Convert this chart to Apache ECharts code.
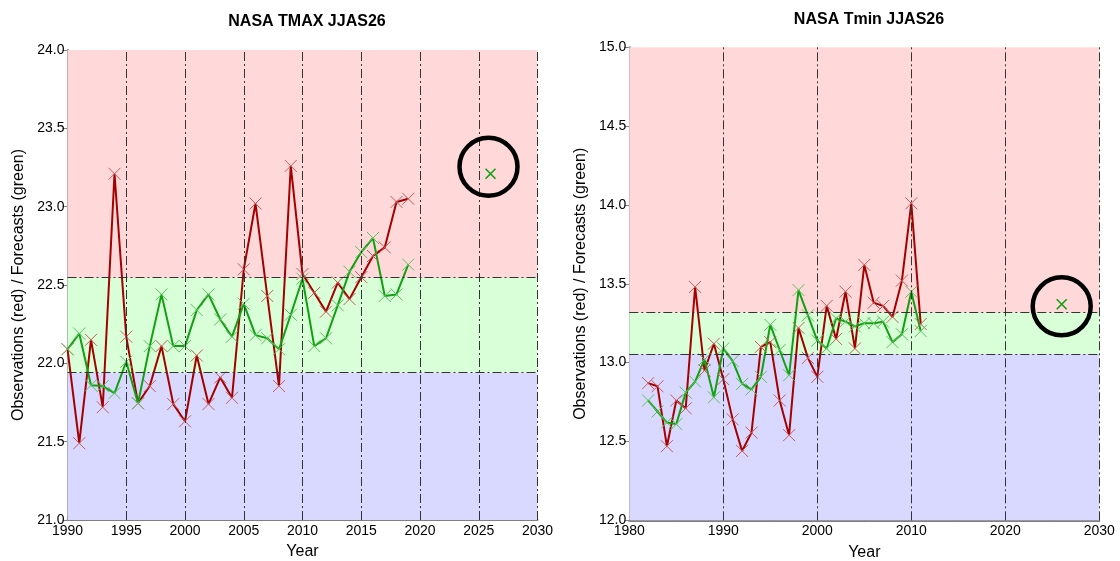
<!DOCTYPE html>
<html>
<head>
<meta charset="utf-8">
<script src="https://cdn.jsdelivr.net/npm/echarts@6/dist/echarts.min.js"></script>
<style>html,body{margin:0;padding:0;background:#fff}#c{width:1120px;height:561px}</style>
</head>
<body>
<div id="c"></div>
<script>
// ---- Left chart: NASA TMAX JJAS26 ----
const tmaxYears = [1990,1991,1992,1993,1994,1995,1996,1997,1998,1999,2000,2001,2002,2003,2004,2005,2006,2007,2008,2009,2010,2011,2012,2013,2014,2015,2016,2017,2018,2019];
const tmaxObs = [22.09,21.49,22.15,21.72,23.21,22.17,21.745,21.855,22.11,21.74,21.63,22.05,21.74,21.91,21.78,22.60,23.02,22.43,21.855,23.26,22.57,22.45,22.33,22.515,22.41,22.55,22.685,22.74,23.03,23.05];
const tmaxFc = [22.09,22.19,21.86,21.855,21.81,22.01,21.745,22.11,22.44,22.11,22.11,22.34,22.44,22.28,22.17,22.38,22.18,22.16,22.09,22.31,22.54,22.11,22.16,22.37,22.585,22.71,22.80,22.43,22.44,22.63];
const tmaxForecast = [2026, 23.21];
const tmaxTerciles = [21.94, 22.545];
const tmaxRange = [21, 24];
const tmaxGridYears = [1995,2000,2005,2010,2015,2020,2025,2030];

// ---- Right chart: NASA Tmin JJAS26 ----
const tminYears = [1982,1983,1984,1985,1986,1987,1988,1989,1990,1991,1992,1993,1994,1995,1996,1997,1998,1999,2000,2001,2002,2003,2004,2005,2006,2007,2008,2009,2010,2011];
const tminObs = [12.87,12.85,12.47,12.76,12.71,13.48,12.95,13.12,12.895,12.64,12.44,12.556,13.10,13.13,12.76,12.54,13.22,13.03,12.91,13.36,13.15,13.45,13.09,13.62,13.38,13.36,13.29,13.52,14.01,13.245];
const tminFc = [12.76,12.69,12.62,12.61,12.81,12.88,13.02,12.78,13.09,13.01,12.865,12.83,12.91,13.24,13.08,12.92,13.46,13.30,13.14,13.09,13.28,13.26,13.23,13.25,13.25,13.26,13.13,13.18,13.45,13.20];
const tminForecast = [2026, 13.37];
const tminTerciles = [13.055, 13.317];
const tminRange = [12, 15];
const tminGridYears = [1990,2000,2010,2020,2030];

const titles = ['NASA TMAX JJAS26', 'NASA Tmin JJAS26'];
const yName = 'Observations (red) / Forecasts (green)';

const FONT = 'Liberation Sans, Arial, sans-serif';
const XSYM = 'path://M0,0L10,10M0,10L10,0';
const DASHDOT = [9,3,2,3];

function pairs(xs, ys){ return xs.map((x,i)=>[x, ys[i]]); }

function bgSeries(idx, range, terc, gridYears){
  return {
    type:'line', xAxisIndex:idx, yAxisIndex:idx, data:[], z:1, silent:true,
    markArea:{ silent:true, itemStyle:{opacity:1}, data:[
      [{yAxis:range[0], itemStyle:{color:'#d9d9ff'}},{yAxis:terc[0]}],
      [{yAxis:terc[0], itemStyle:{color:'#d9ffd9'}},{yAxis:terc[1]}],
      [{yAxis:terc[1], itemStyle:{color:'#ffd9d9'}},{yAxis:range[1]}]
    ]},
    markLine:{ silent:true, symbol:'none', label:{show:false}, animation:false,
      lineStyle:{color:'#333', width:1, type:DASHDOT},
      data: terc.map(v=>({yAxis:v})).concat(gridYears.map(v=>({xAxis:v}))) }
  };
}
function lineSeries(idx, data, lineColor, symColor){
  return {
    type:'line', xAxisIndex:idx, yAxisIndex:idx, data:data, z:3,
    symbol:XSYM, symbolSize:12, showSymbol:true, animation:false,
    lineStyle:{color:lineColor, width:2},
    itemStyle:{color:'rgba(0,0,0,0)', borderColor:symColor, borderWidth:1}
  };
}
function fcSeries(idx, pt, off){
  return [
    { type:'scatter', xAxisIndex:idx, yAxisIndex:idx, data:[pt], symbol:XSYM, symbolSize:10,
      itemStyle:{color:'rgba(0,0,0,0)', borderColor:'#10a010', borderWidth:1.6, opacity:1}, z:5 },
    { type:'scatter', xAxisIndex:idx, yAxisIndex:idx, data:[pt], symbol:'circle', symbolSize:58,
      symbolOffset:off, itemStyle:{color:'rgba(0,0,0,0)', borderColor:'#000', borderWidth:4.5, opacity:1}, z:6 }
  ];
}
function xAxis(idx, min, max, interval, minor){
  return {
    type:'value', gridIndex:idx, min:min, max:max, interval:interval,
    name:'Year', nameLocation:'middle', nameGap:24,
    nameTextStyle:{fontFamily:FONT, fontSize:16, color:'#000'},
    axisLine:{show:true, onZero:false, lineStyle:{color:'#808080', width:2}},
    axisTick:{show:true, inside:true, length:4, lineStyle:{color:'#555'}},
    minorTick:{show:minor, splitNumber:2, length:3, lineStyle:{color:'#555'}},
    axisLabel:{fontFamily:FONT, fontSize:14, color:'#000', margin:4, formatter:v=>String(v)},
    splitLine:{show:false}
  };
}
function yAxis(idx, range){
  return {
    type:'value', gridIndex:idx, min:range[0], max:range[1], interval:0.5,
    name:yName, nameLocation:'middle', nameGap:41,
    nameTextStyle:{fontFamily:FONT, fontSize:16, color:'#000'},
    axisLine:{show:true, lineStyle:{color:'#808080', width:2}},
    axisTick:{show:true, inside:false, length:5, lineStyle:{color:'#808080'}},
    axisLabel:{fontFamily:FONT, fontSize:14, color:'#000', margin:3, formatter:v=>v.toFixed(1)},
    splitLine:{show:false}
  };
}

const chart = echarts.init(document.getElementById('c'), null, {renderer:'canvas'});
chart.setOption({
  animation:false,
  backgroundColor:'#fff',
  title:[
    {text:titles[0], left:302, top:9, textAlign:'center', textStyle:{fontFamily:FONT, fontSize:16, fontWeight:'bold', color:'#000'}},
    {text:titles[1], left:864, top:7, textAlign:'center', textStyle:{fontFamily:FONT, fontSize:16, fontWeight:'bold', color:'#000'}}
  ],
  grid:[
    {left:67.5, top:50, width:470, height:470, containLabel:false, outerBoundsMode:'none'},
    {left:629.3, top:47.3, width:470, height:473, containLabel:false, outerBoundsMode:'none'}
  ],
  xAxis:[ xAxis(0,1990,2030,5,false), xAxis(1,1980,2030,10,true) ],
  yAxis:[ yAxis(0,tmaxRange), yAxis(1,tminRange) ],
  series:[
    bgSeries(0, tmaxRange, tmaxTerciles, tmaxGridYears),
    bgSeries(1, tminRange, tminTerciles, tminGridYears),
    lineSeries(0, pairs(tmaxYears,tmaxObs), '#a30000', '#c85a5a'),
    lineSeries(0, pairs(tmaxYears,tmaxFc), '#12a012', '#5cc05c'),
    lineSeries(1, pairs(tminYears,tminObs), '#a30000', '#c85a5a'),
    lineSeries(1, pairs(tminYears,tminFc), '#12a012', '#5cc05c'),
    ...fcSeries(0, tmaxForecast, [-2,-7]),
    ...fcSeries(1, tminForecast, [0,2])
  ]
});
</script>
</body>
</html>
